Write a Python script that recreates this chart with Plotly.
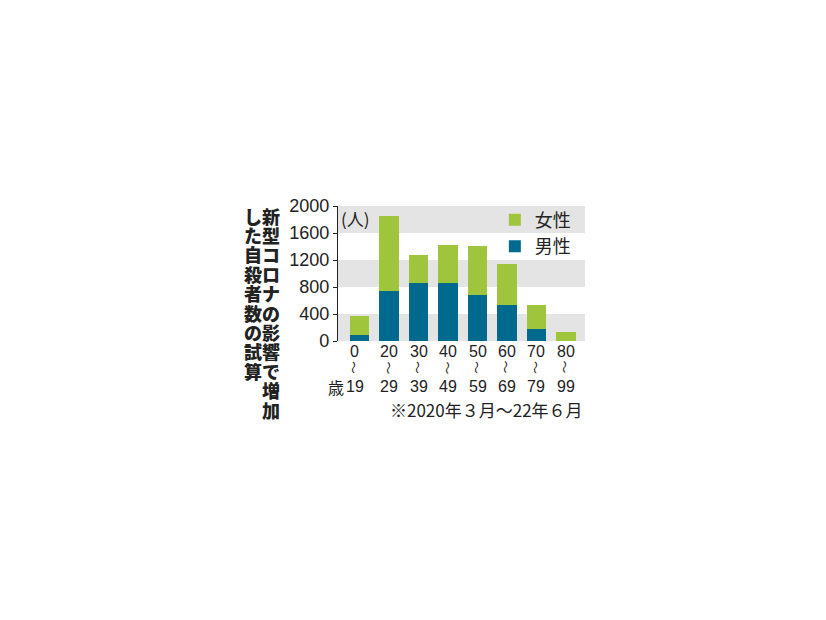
import plotly.graph_objects as go

# 年代別（2020年3月〜22年6月）
age_from = ["0", "20", "30", "40", "50", "60", "70", "80"]
age_to = ["19", "29", "39", "49", "59", "69", "79", "99"]
male = [92, 745, 862, 866, 683, 530, 178, 0]
female = [280, 1100, 410, 555, 723, 604, 362, 134]

y_ticks = [0, 400, 800, 1200, 1600, 2000]
title_cols = ["新型コロナの影響で増加", "した自殺者数の試算"]
note = "※2020年３月〜22年６月"

GREEN = "#9fc53c"
BLUE = "#006a8e"
BAND = "#e4e4e4"
TXT = "#222222"
FONT = "Noto Sans CJK JP"
NUM = "Liberation Sans"

x = list(range(len(age_from)))

fig = go.Figure()
fig.add_trace(go.Bar(x=x, y=male, name="男性", marker_color=BLUE, width=0.66,
                     marker_line_width=0))
fig.add_trace(go.Bar(x=x, y=female, name="女性", marker_color=GREEN, width=0.66,
                     marker_line_width=0))

# 背景の帯 (0-400, 800-1200, 1600-2000)
for lo, hi in zip(y_ticks[0::2], y_ticks[1::2]):
    fig.add_shape(type="rect", xref="paper", yref="y", x0=0, x1=1, y0=lo, y1=hi,
                  fillcolor=BAND, line_width=0, layer="below")

ann = []
# x軸ラベル（3段）
for i in x:
    dx = -5 if i == 0 else 0
    ann.append(dict(x=i, y=0, xref="x", yref="y", text=age_from[i], showarrow=False,
                    yshift=-10.5, xshift=dx, font=dict(size=16, family=NUM)))
    ann.append(dict(x=i, y=0, xref="x", yref="y", text="〜", showarrow=False,
                    textangle=90, yshift=-26.5, xshift=dx, font=dict(size=13)))
    ann.append(dict(x=i, y=0, xref="x", yref="y", text=age_to[i], showarrow=False,
                    yshift=-45.5, xshift=dx, font=dict(size=16, family=NUM)))
ann.append(dict(x=0, y=0, xref="x", yref="y", text="歳", showarrow=False,
                xanchor="right", yshift=-45.5, xshift=-14, font=dict(size=16)))
ann.append(dict(x=1, y=0, xref="paper", yref="y", text=note, showarrow=False,
                xanchor="right", yshift=-68.5, font=dict(size=17)))
ann.append(dict(x=0, y=1, xref="paper", yref="paper", text="(人)", showarrow=False,
                xanchor="left", yanchor="top", xshift=1, yshift=2, font=dict(size=17)))

# 縦書きの見出し（1文字ずつ）
col_x = [271, 253]
for col, cx in zip(title_cols, col_x):
    for k, ch in enumerate(col):
        ann.append(dict(x=(cx - 338) / 247, y=1, xref="paper", yref="paper", text=ch,
                        showarrow=False, xanchor="center", yanchor="middle",
                        yshift=-9.5 - 19.4 * k,
                        font=dict(size=18, weight=900)))

fig.update_layout(
    width=826, height=620,
    margin=dict(l=330, r=249, t=198, b=287),
    plot_bgcolor="white", paper_bgcolor="white",
    barmode="stack",
    font=dict(family=FONT, color=TXT, size=17),
    showlegend=True,
    legend=dict(x=0.635, y=1.033, xanchor="left", yanchor="top", traceorder="reversed",
                bgcolor="rgba(0,0,0,0)", font=dict(size=18)),
    annotations=ann,
)
fig.update_xaxes(range=[-0.73, 7.645], showticklabels=False, showgrid=False,
                 zeroline=False, showline=False, ticks="")
fig.update_yaxes(range=[0, 2000], tickvals=y_ticks, showgrid=False, zeroline=False,
                 showline=True, linecolor=TXT, linewidth=1.2, ticks="outside",
                 ticklen=4, tickcolor=TXT, tickfont=dict(size=18, family=NUM))

fig.write_html("out.html")
